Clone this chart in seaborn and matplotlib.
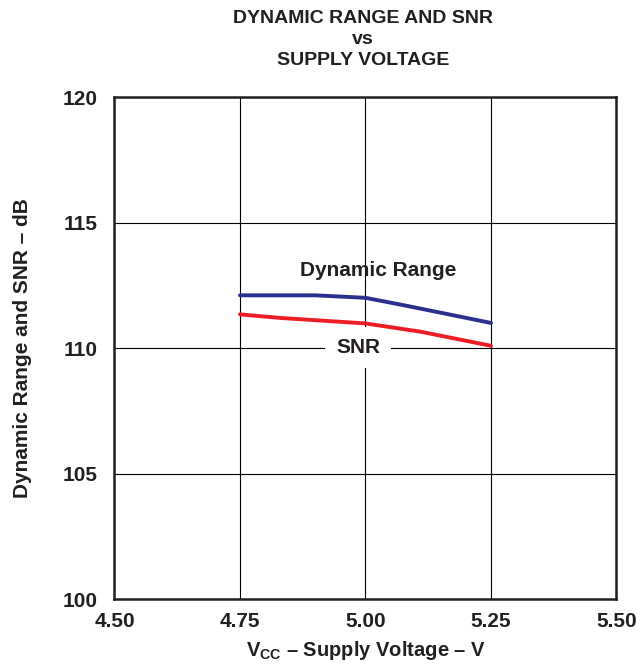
import numpy as np
import pandas as pd
import matplotlib
matplotlib.use("Agg")
import matplotlib.pyplot as plt
import seaborn as sns

# ===============================
# Data
# ===============================
vcc_dr = [4.75, 4.90, 5.00, 5.075, 5.25]
dynamic_range = [112.1, 112.1, 112.0, 111.71, 111.0]

vcc_snr = [4.75, 4.83, 5.00, 5.11, 5.25]
snr = [111.34, 111.2, 110.98, 110.65, 110.09]

x_ticks = [4.50, 4.75, 5.00, 5.25, 5.50]
y_ticks = [100, 105, 110, 115, 120]

df = pd.concat([
    pd.DataFrame({"vcc": vcc_dr, "db": dynamic_range, "series": "Dynamic Range"}),
    pd.DataFrame({"vcc": vcc_snr, "db": snr, "series": "SNR"}),
])

# ===============================
# Style
# ===============================
sns.set_style("white")
plt.rcParams["font.family"] = ["Liberation Sans", "DejaVu Sans"]
plt.rcParams["font.weight"] = "bold"
plt.rcParams["mathtext.fontset"] = "custom"
plt.rcParams["mathtext.rm"] = "Liberation Sans:bold"

ink = "#231f20"

fig = plt.figure(figsize=(6.37, 6.65), dpi=100)
ax = fig.add_axes([0.1797, 0.0992, 0.7881, 0.7549])

sns.lineplot(
    data=df, x="vcc", y="db", hue="series",
    palette={"Dynamic Range": "#2b2f8f", "SNR": "#ee1c25"},
    linewidth=2.8, legend=False, ax=ax, zorder=3,
)

ax.set_xlim(4.5, 5.5)
ax.set_ylim(100, 120)
ax.set_xticks(x_ticks)
ax.set_xticklabels([f"{t:.2f}" for t in x_ticks])
ax.set_yticks(y_ticks)
ax.set_yticklabels([str(t) for t in y_ticks])
ax.tick_params(axis="x", length=0, labelsize=15, pad=9, colors=ink)
ax.tick_params(axis="y", length=0, labelsize=15, pad=12, colors=ink)
ax.grid(True, color="black", linewidth=0.8)
for s in ax.spines.values():
    s.set_linewidth(1.8)
    s.set_color(ink)

ax.set_xlabel(r"$\mathrm{V_{CC}}$ – Supply Voltage – V", fontsize=14.5,
              fontweight="bold", labelpad=6, color=ink)
ax.set_ylabel("Dynamic Range and SNR – dB", fontsize=15,
              fontweight="bold", labelpad=22, color=ink)

ax.text(5.025, 113.1, "Dynamic Range", ha="center", va="center",
        fontsize=15, fontweight="bold", color=ink)
ax.text(4.986, 110.02, "SNR", ha="center", va="center", fontsize=15,
        fontweight="bold", color=ink,
        bbox=dict(facecolor="white", edgecolor="none", pad=8), zorder=2)

fig.text(0.57, 0.985, "DYNAMIC RANGE AND SNR\nvs\nSUPPLY VOLTAGE",
         ha="center", va="top", fontsize=14, fontweight="bold",
         linespacing=1.3, color=ink)

fig.savefig("out.png", dpi=100)
